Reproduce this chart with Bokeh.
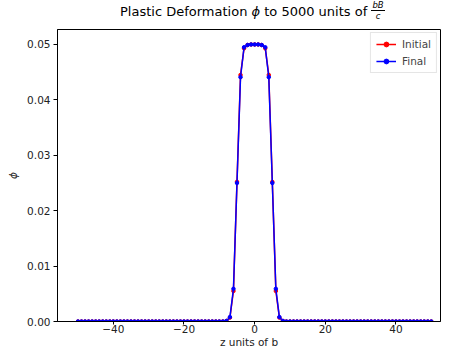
from bokeh.plotting import figure
from bokeh.embed import file_html
from bokeh.resources import INLINE
from bokeh.layouts import column
from bokeh.models import Range1d, FixedTicker, PrintfTickFormatter, Legend, LegendItem, Div

# ---- data ----
z = list(range(-50, 51))
final_core = {0: 0.0500, 1: 0.0500, 2: 0.0499, 3: 0.0495, 4: 0.0441, 5: 0.0250,
              6: 0.0059, 7: 0.0008, 8: 0.0001}
initial_core = {0: 0.0500, 1: 0.0500, 2: 0.0499, 3: 0.0493, 4: 0.0445, 5: 0.0252,
                6: 0.0055, 7: 0.0007, 8: 0.0001}
phi_final = [final_core.get(abs(v), 0.0) for v in z]
phi_initial = [initial_core.get(abs(v), 0.0) for v in z]
x_ticks = [-40, -20, 0, 20, 40]
y_ticks = [0.0, 0.01, 0.02, 0.03, 0.04, 0.05]
title_before, title_sym, title_after = "Plastic Deformation ", "\u03d5", " to 5000 units of"
title_num, title_den = "bB", "c"

FONT = "DejaVu Sans"
W = 441
TITLE_H = 22
FS = "10.5px"

title_html = (
    f'<div style="padding-left:120px;padding-top:3px;white-space:nowrap;font-family:\'{FONT}\';font-size:13px;'
    f'line-height:18px;color:#000;">{title_before}<i>{title_sym}</i>{title_after} '
    '<span style="display:inline-block;vertical-align:middle;text-align:center;'
    'font-size:8.5px;font-style:italic;line-height:8px;position:relative;top:-2px;">'
    f'<span style="display:block;padding:0 1px 1px 1px;border-bottom:1px solid #000;">{title_num}</span>'
    f'<span style="display:block;padding-top:1px;">{title_den}</span></span></div>'
)
div = Div(text=title_html, width=W, height=TITLE_H, margin=0)

p = figure(width=W, height=350 - TITLE_H, output_backend="svg", toolbar_location=None,
           x_range=Range1d(-55.8, 52.6), y_range=Range1d(0, 0.0527),
           min_border_left=57, min_border_right=1, min_border_top=7, min_border_bottom=10,
           margin=0)
p.xgrid.visible = False
p.ygrid.visible = False
p.outline_line_color = "black"
p.outline_line_width = 1
p.background_fill_color = "white"
p.border_fill_color = "white"

r1 = p.line(z, phi_initial, line_color="red", line_width=1.5)
s1 = p.scatter(z, phi_initial, color="red", size=3.5)
r2 = p.line(z, phi_final, line_color="blue", line_width=1.5)
s2 = p.scatter(z, phi_final, color="blue", size=3.5)

for ax in (p.xaxis[0], p.yaxis[0]):
    ax.major_label_text_font = FONT
    ax.major_label_text_font_size = FS
    ax.major_label_text_color = "#222222"
    ax.axis_label_text_font = FONT
    ax.axis_label_text_font_size = FS
    ax.axis_label_text_font_style = "normal"
    ax.axis_label_text_color = "#222222"
    ax.minor_tick_line_color = None
    ax.major_tick_in = 0
    ax.major_tick_out = 4
    ax.major_label_standoff = 3
    ax.axis_line_color = "black"
    ax.major_tick_line_color = "black"

p.xaxis.ticker = FixedTicker(ticks=x_ticks)
p.xaxis.major_label_overrides = {t: (("\u2212" + str(-t)) if t < 0 else str(t)) for t in x_ticks}
p.xaxis.axis_label = "z units of b"
p.xaxis.axis_label_standoff = 0
p.xaxis.major_label_standoff = 0
p.xaxis.major_tick_out = 3
p.yaxis.ticker = FixedTicker(ticks=y_ticks)
p.yaxis.formatter = PrintfTickFormatter(format="%.2f")
p.yaxis.axis_label = "\u03d5"
p.yaxis.axis_label_text_font_style = "italic"
p.yaxis.axis_label_standoff = 5

legend = Legend(items=[LegendItem(label="Initial", renderers=[r1, s1]),
                       LegendItem(label="Final", renderers=[r2, s2])],
                location="top_right", label_text_font=FONT, label_text_font_size=FS,
                label_height=12, glyph_height=12, glyph_width=20, spacing=5, padding=5,
                margin=3, border_line_color="#cccccc", border_line_width=1,
                background_fill_alpha=0.8, label_standoff=6)
p.add_layout(legend)

layout = column(div, p, margin=0, spacing=0)
open("out.html", "w").write(file_html(layout, INLINE))
